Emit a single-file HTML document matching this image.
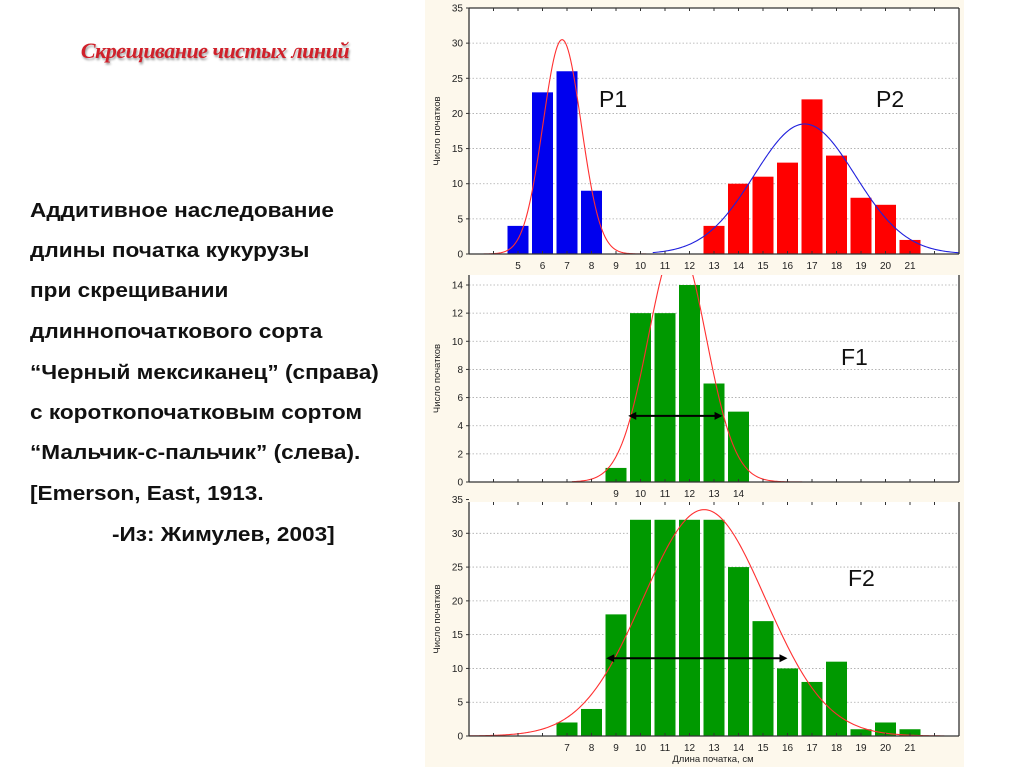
<!DOCTYPE html>
<html><head><meta charset="utf-8">
<style>
html,body{margin:0;padding:0;background:#fff;}
body{width:1024px;height:767px;overflow:hidden;position:relative;font-family:"Liberation Sans",sans-serif;}
#title{position:absolute;left:0;width:430px;top:38px;text-align:center;font-family:"Liberation Serif",serif;font-style:italic;font-weight:bold;font-size:22px;color:#d0202a;text-shadow:1px 2px 2px #999;letter-spacing:-0.5px;}
.ln{position:absolute;left:30px;font-weight:bold;font-size:20px;color:#111;white-space:nowrap;transform:scaleX(1.13);transform-origin:0 0;}
svg{position:absolute;left:0;top:0;}
</style></head>
<body>
<div id="title">Скрещивание чистых линий</div>
<div class="ln" style="top:200px">Аддитивное наследование</div>
<div class="ln" style="top:240px">длины початка кукурузы</div>
<div class="ln" style="top:280px">при скрещивании</div>
<div class="ln" style="top:321px">длиннопочаткового сорта</div>
<div class="ln" style="top:362px">“Черный мексиканец” (справа)</div>
<div class="ln" style="top:402px">с короткопочатковым сортом</div>
<div class="ln" style="top:442px">“Мальчик-с-пальчик” (слева).</div>
<div class="ln" style="top:483px">[Emerson, East, 1913.</div>
<div class="ln" style="top:524px;left:112px">-Из: Жимулев, 2003]</div>
<svg id="chart" width="1024" height="767" xmlns="http://www.w3.org/2000/svg"></svg>
<script>
// ---- data ----
const p1Cats = [5,6,7,8];
const p1Vals = [4,23,26,9];
const p2Cats = [13,14,15,16,17,18,19,20,21];
const p2Vals = [4,10,11,13,22,14,8,7,2];
const f1Cats = [9,10,11,12,13,14];
const f1Vals = [1,12,12,14,7,5];
const f2Cats = [7,8,9,10,11,12,13,14,15,16,17,18,19,20,21];
const f2Vals = [2,4,18,32,32,32,32,25,17,10,8,11,1,2,1];
// normal curve parameters: [mean, sigma, peak]
const p1Curve = [6.8, 0.78, 30.5];
const p2Curve = [16.7, 2.06, 18.5];
const f1Curve = [11.5, 1.18, 17];
const f2Curve = [12.6, 2.5, 33.5];
// arrows: [from, to, level]
const f1Arrow = [9.5, 13.35, 4.7];
const f2Arrow = [8.6, 16.0, 11.5];
const topTicks = [0,5,10,15,20,25,30,35];
const midTicks = [0,2,4,6,8,10,12,14];
const botTicks = [0,5,10,15,20,25,30,35];
const topXLabels = [5,6,7,8,9,10,11,12,13,14,15,16,17,18,19,20,21];
const midXLabels = [9,10,11,12,13,14];
const botXLabels = [7,8,9,10,11,12,13,14,15,16,17,18,19,20,21];

const NS = 'http://www.w3.org/2000/svg';
const svg = document.getElementById('chart');
function el(tag, attrs, parent){
  const e = document.createElementNS(NS, tag);
  for (const k in attrs) e.setAttribute(k, attrs[k]);
  (parent||svg).appendChild(e);
  return e;
}
const X0 = 469, XSTEP = 24.5;
function xs(k){ return X0 + (k-3)*XSTEP; }

const panel = el('rect',{x:425,y:0,width:539,height:767,fill:'#fdf8ec'});



function chart(name, cfg){
  const g = el('g',{});
  
  
  const ys = v => cfg.y0 - (v/cfg.max)*(cfg.y0-cfg.yTop);
  const top = cfg.areaTop;
  const bg = el('rect',{x:X0,y:top,width:959-X0,height:cfg.y0-top,fill:'#fff'},g);
  
  
  cfg.yticks.forEach(t=>{
    const y = ys(t);
    if (t>0 && y>=top) {
      const gl = el('line',{x1:X0,x2:959,y1:y,y2:y,stroke:'#aaa','stroke-width':0.8,'stroke-dasharray':'1.5,2'},g);
      
      
    }
    if (y>=top-4) {
      el('line',{x1:X0-3,x2:X0,y1:y,y2:y,stroke:'#333','stroke-width':1},g);
      const tl = el('text',{x:X0-6,y:y+3.5,'text-anchor':'end','font-size':10,fill:'#222','font-family':'Liberation Sans, sans-serif'},g);
      tl.textContent = t;
      
      
    }
  });
  cfg.bars.forEach(b=>{
    b.cats.forEach((c,i)=>{
      const v = b.vals[i];
      const r = el('rect',{x:xs(c)-10.5,y:ys(v),width:21,height:cfg.y0-ys(v),fill:b.color},g);
      
      
    });
  });
  const clipId = name+'-clip';
  const cp = el('clipPath',{id:clipId},g);
  el('rect',{x:X0,y:top,width:959-X0,height:cfg.y0-top+1},cp);
  cfg.curves.forEach(c=>{
    const [m,s,p] = c.params;
    let d='';
    for (let k=c.from;k<=c.to+1e-9;k+=0.05){
      const v = p*Math.exp(-0.5*Math.pow((k-m)/s,2));
      d += (d?'L':'M')+xs(k).toFixed(2)+','+ys(v).toFixed(2);
    }
    const pa = el('path',{d:d,fill:'none',stroke:c.color,'stroke-width':1.1,'clip-path':'url(#'+clipId+')'},g);
    
    
  });
  el('line',{x1:X0,x2:X0,y1:top,y2:cfg.y0,stroke:'#333','stroke-width':1.3},g);
  el('line',{x1:X0,x2:959,y1:cfg.y0,y2:cfg.y0,stroke:'#333','stroke-width':1.3},g);
  el('line',{x1:959,x2:959,y1:top,y2:cfg.y0,stroke:'#333','stroke-width':1.3},g);
  if (cfg.frameTop) el('line',{x1:X0,x2:959,y1:top,y2:top,stroke:'#333','stroke-width':1.3},g);
  for (let k=4;k<=22;k++){
    el('line',{x1:xs(k),x2:xs(k),y1:cfg.y0,y2:cfg.y0-3,stroke:'#333','stroke-width':1},g);
    if (cfg.topTicks) el('line',{x1:xs(k),x2:xs(k),y1:top,y2:top+3,stroke:'#333','stroke-width':1},g);
  }
  cfg.xlabels.forEach(k=>{
    const t = el('text',{x:xs(k),y:cfg.y0+15,'text-anchor':'middle','font-size':10,fill:'#222','font-family':'Liberation Sans, sans-serif'},g);
    t.textContent = k;
    
    
  });
  const yc = (top+cfg.y0)/2;
  const yt = el('text',{x:440,y:yc,'text-anchor':'middle','font-size':9.5,fill:'#222',transform:'rotate(-90 440 '+yc+')','font-family':'Liberation Sans, sans-serif'},g);
  yt.textContent = 'Число початков';
  
  
  if (cfg.arrow){
    const [a,b,lv] = cfg.arrow;
    const y = ys(lv), x1 = xs(a), x2 = xs(b);
    const ar = el('g',{},g);
    
    
    el('line',{x1:x1+6,x2:x2-6,y1:y,y2:y,stroke:'#000','stroke-width':2},ar);
    el('polygon',{points:`${x1},${y} ${x1+8},${y-4} ${x1+8},${y+4}`,fill:'#000'},ar);
    el('polygon',{points:`${x2},${y} ${x2-8},${y-4} ${x2-8},${y+4}`,fill:'#000'},ar);
  }
  cfg.labels.forEach(l=>{
    const t = el('text',{x:l.x,y:l.y,'font-size':23,fill:'#111','font-family':'Liberation Sans, sans-serif'},g);
    t.textContent = l.t;
    
    
  });
}

chart('chart-parents',{y0:254,yTop:8,max:35,areaTop:8,frameTop:true,topTicks:true,yticks:topTicks,xlabels:topXLabels,
  bars:[{id:'p1',cats:p1Cats,vals:p1Vals,color:'#0000ee'},{id:'p2',cats:p2Cats,vals:p2Vals,color:'#ff0000'}],
  curves:[{id:'p1',params:p1Curve,from:3.6,to:10.3,color:'#ff3030'},{id:'p2',params:p2Curve,from:10.5,to:23,color:'#2020dd'}],
  labels:[{t:'P1',x:599,y:107},{t:'P2',x:876,y:107}]});
chart('chart-f1',{y0:482,yTop:285,max:14,areaTop:275,frameTop:false,topTicks:false,yticks:midTicks,xlabels:midXLabels,
  bars:[{id:'f1',cats:f1Cats,vals:f1Vals,color:'#009900'}],
  curves:[{id:'f1',params:f1Curve,from:7.2,to:16.6,color:'#ff3030'}],
  arrow:f1Arrow,
  labels:[{t:'F1',x:841,y:365}]});
chart('chart-f2',{y0:736,yTop:533.3,max:30,areaTop:502,frameTop:false,topTicks:true,yticks:botTicks,xlabels:botXLabels,
  bars:[{id:'f2',cats:f2Cats,vals:f2Vals,color:'#009900'}],
  curves:[{id:'f2',params:f2Curve,from:3,to:22.4,color:'#ff3030'}],
  arrow:f2Arrow,
  labels:[{t:'F2',x:848,y:586}]});

const xt = el('text',{x:713,y:762,'text-anchor':'middle','font-size':9.5,fill:'#222','font-family':'Liberation Sans, sans-serif'});
xt.textContent = 'Длина початка, см';


</script>
</body></html>
